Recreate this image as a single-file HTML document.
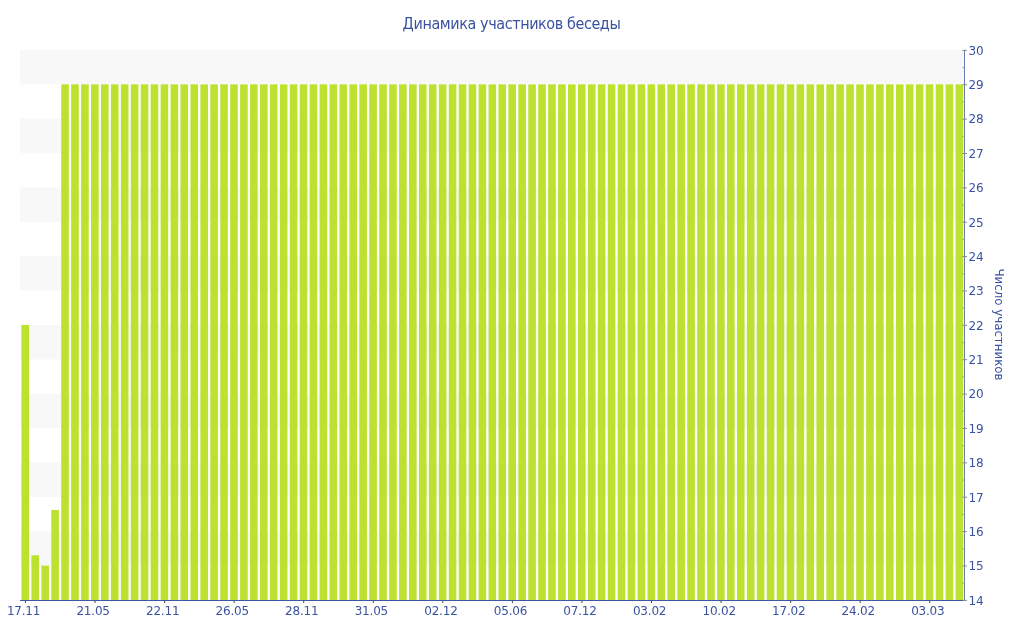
<!DOCTYPE html>
<html><head><meta charset="utf-8"><style>
html,body{margin:0;padding:0;background:#fff;width:1024px;height:640px;overflow:hidden}
svg{display:block}
.ov{position:absolute;left:0;top:0;will-change:transform}
text{font-family:"DejaVu Sans", "Liberation Sans", sans-serif;fill:#3a52a0}
.lab{letter-spacing:-0.2px}
.title{font-family:"DejaVu Sans", sans-serif;font-stretch:condensed;letter-spacing:-0.41px}
</style></head><body>
<svg width="1024" height="640" viewBox="0 0 1024 640">
<rect width="1024" height="640" fill="#fff"/>
<rect x="20" y="531.250" width="944" height="34.375" fill="#f8f8f8"/>
<rect x="20" y="462.500" width="944" height="34.375" fill="#f8f8f8"/>
<rect x="20" y="393.750" width="944" height="34.375" fill="#f8f8f8"/>
<rect x="20" y="325.000" width="944" height="34.375" fill="#f8f8f8"/>
<rect x="20" y="256.250" width="944" height="34.375" fill="#f8f8f8"/>
<rect x="20" y="187.500" width="944" height="34.375" fill="#f8f8f8"/>
<rect x="20" y="118.750" width="944" height="34.375" fill="#f8f8f8"/>
<rect x="20" y="50.000" width="944" height="34.375" fill="#f8f8f8"/>
<rect x="21.500" y="325.000" width="7.6" height="275.000" fill="#bce12e"/>
<rect x="31.437" y="555.312" width="7.6" height="44.688" fill="#bce12e"/>
<rect x="41.374" y="565.625" width="7.6" height="34.375" fill="#bce12e"/>
<rect x="51.311" y="509.938" width="7.6" height="90.062" fill="#bce12e"/>
<rect x="61.247" y="84.375" width="7.6" height="515.625" fill="#bce12e"/>
<rect x="71.184" y="84.375" width="7.6" height="515.625" fill="#bce12e"/>
<rect x="81.121" y="84.375" width="7.6" height="515.625" fill="#bce12e"/>
<rect x="91.058" y="84.375" width="7.6" height="515.625" fill="#bce12e"/>
<rect x="100.995" y="84.375" width="7.6" height="515.625" fill="#bce12e"/>
<rect x="110.932" y="84.375" width="7.6" height="515.625" fill="#bce12e"/>
<rect x="120.868" y="84.375" width="7.6" height="515.625" fill="#bce12e"/>
<rect x="130.805" y="84.375" width="7.6" height="515.625" fill="#bce12e"/>
<rect x="140.742" y="84.375" width="7.6" height="515.625" fill="#bce12e"/>
<rect x="150.679" y="84.375" width="7.6" height="515.625" fill="#bce12e"/>
<rect x="160.616" y="84.375" width="7.6" height="515.625" fill="#bce12e"/>
<rect x="170.553" y="84.375" width="7.6" height="515.625" fill="#bce12e"/>
<rect x="180.489" y="84.375" width="7.6" height="515.625" fill="#bce12e"/>
<rect x="190.426" y="84.375" width="7.6" height="515.625" fill="#bce12e"/>
<rect x="200.363" y="84.375" width="7.6" height="515.625" fill="#bce12e"/>
<rect x="210.300" y="84.375" width="7.6" height="515.625" fill="#bce12e"/>
<rect x="220.237" y="84.375" width="7.6" height="515.625" fill="#bce12e"/>
<rect x="230.174" y="84.375" width="7.6" height="515.625" fill="#bce12e"/>
<rect x="240.111" y="84.375" width="7.6" height="515.625" fill="#bce12e"/>
<rect x="250.047" y="84.375" width="7.6" height="515.625" fill="#bce12e"/>
<rect x="259.984" y="84.375" width="7.6" height="515.625" fill="#bce12e"/>
<rect x="269.921" y="84.375" width="7.6" height="515.625" fill="#bce12e"/>
<rect x="279.858" y="84.375" width="7.6" height="515.625" fill="#bce12e"/>
<rect x="289.795" y="84.375" width="7.6" height="515.625" fill="#bce12e"/>
<rect x="299.732" y="84.375" width="7.6" height="515.625" fill="#bce12e"/>
<rect x="309.668" y="84.375" width="7.6" height="515.625" fill="#bce12e"/>
<rect x="319.605" y="84.375" width="7.6" height="515.625" fill="#bce12e"/>
<rect x="329.542" y="84.375" width="7.6" height="515.625" fill="#bce12e"/>
<rect x="339.479" y="84.375" width="7.6" height="515.625" fill="#bce12e"/>
<rect x="349.416" y="84.375" width="7.6" height="515.625" fill="#bce12e"/>
<rect x="359.353" y="84.375" width="7.6" height="515.625" fill="#bce12e"/>
<rect x="369.289" y="84.375" width="7.6" height="515.625" fill="#bce12e"/>
<rect x="379.226" y="84.375" width="7.6" height="515.625" fill="#bce12e"/>
<rect x="389.163" y="84.375" width="7.6" height="515.625" fill="#bce12e"/>
<rect x="399.100" y="84.375" width="7.6" height="515.625" fill="#bce12e"/>
<rect x="409.037" y="84.375" width="7.6" height="515.625" fill="#bce12e"/>
<rect x="418.974" y="84.375" width="7.6" height="515.625" fill="#bce12e"/>
<rect x="428.911" y="84.375" width="7.6" height="515.625" fill="#bce12e"/>
<rect x="438.847" y="84.375" width="7.6" height="515.625" fill="#bce12e"/>
<rect x="448.784" y="84.375" width="7.6" height="515.625" fill="#bce12e"/>
<rect x="458.721" y="84.375" width="7.6" height="515.625" fill="#bce12e"/>
<rect x="468.658" y="84.375" width="7.6" height="515.625" fill="#bce12e"/>
<rect x="478.595" y="84.375" width="7.6" height="515.625" fill="#bce12e"/>
<rect x="488.532" y="84.375" width="7.6" height="515.625" fill="#bce12e"/>
<rect x="498.468" y="84.375" width="7.6" height="515.625" fill="#bce12e"/>
<rect x="508.405" y="84.375" width="7.6" height="515.625" fill="#bce12e"/>
<rect x="518.342" y="84.375" width="7.6" height="515.625" fill="#bce12e"/>
<rect x="528.279" y="84.375" width="7.6" height="515.625" fill="#bce12e"/>
<rect x="538.216" y="84.375" width="7.6" height="515.625" fill="#bce12e"/>
<rect x="548.153" y="84.375" width="7.6" height="515.625" fill="#bce12e"/>
<rect x="558.089" y="84.375" width="7.6" height="515.625" fill="#bce12e"/>
<rect x="568.026" y="84.375" width="7.6" height="515.625" fill="#bce12e"/>
<rect x="577.963" y="84.375" width="7.6" height="515.625" fill="#bce12e"/>
<rect x="587.900" y="84.375" width="7.6" height="515.625" fill="#bce12e"/>
<rect x="597.837" y="84.375" width="7.6" height="515.625" fill="#bce12e"/>
<rect x="607.774" y="84.375" width="7.6" height="515.625" fill="#bce12e"/>
<rect x="617.711" y="84.375" width="7.6" height="515.625" fill="#bce12e"/>
<rect x="627.647" y="84.375" width="7.6" height="515.625" fill="#bce12e"/>
<rect x="637.584" y="84.375" width="7.6" height="515.625" fill="#bce12e"/>
<rect x="647.521" y="84.375" width="7.6" height="515.625" fill="#bce12e"/>
<rect x="657.458" y="84.375" width="7.6" height="515.625" fill="#bce12e"/>
<rect x="667.395" y="84.375" width="7.6" height="515.625" fill="#bce12e"/>
<rect x="677.332" y="84.375" width="7.6" height="515.625" fill="#bce12e"/>
<rect x="687.268" y="84.375" width="7.6" height="515.625" fill="#bce12e"/>
<rect x="697.205" y="84.375" width="7.6" height="515.625" fill="#bce12e"/>
<rect x="707.142" y="84.375" width="7.6" height="515.625" fill="#bce12e"/>
<rect x="717.079" y="84.375" width="7.6" height="515.625" fill="#bce12e"/>
<rect x="727.016" y="84.375" width="7.6" height="515.625" fill="#bce12e"/>
<rect x="736.953" y="84.375" width="7.6" height="515.625" fill="#bce12e"/>
<rect x="746.889" y="84.375" width="7.6" height="515.625" fill="#bce12e"/>
<rect x="756.826" y="84.375" width="7.6" height="515.625" fill="#bce12e"/>
<rect x="766.763" y="84.375" width="7.6" height="515.625" fill="#bce12e"/>
<rect x="776.700" y="84.375" width="7.6" height="515.625" fill="#bce12e"/>
<rect x="786.637" y="84.375" width="7.6" height="515.625" fill="#bce12e"/>
<rect x="796.574" y="84.375" width="7.6" height="515.625" fill="#bce12e"/>
<rect x="806.511" y="84.375" width="7.6" height="515.625" fill="#bce12e"/>
<rect x="816.447" y="84.375" width="7.6" height="515.625" fill="#bce12e"/>
<rect x="826.384" y="84.375" width="7.6" height="515.625" fill="#bce12e"/>
<rect x="836.321" y="84.375" width="7.6" height="515.625" fill="#bce12e"/>
<rect x="846.258" y="84.375" width="7.6" height="515.625" fill="#bce12e"/>
<rect x="856.195" y="84.375" width="7.6" height="515.625" fill="#bce12e"/>
<rect x="866.132" y="84.375" width="7.6" height="515.625" fill="#bce12e"/>
<rect x="876.068" y="84.375" width="7.6" height="515.625" fill="#bce12e"/>
<rect x="886.005" y="84.375" width="7.6" height="515.625" fill="#bce12e"/>
<rect x="895.942" y="84.375" width="7.6" height="515.625" fill="#bce12e"/>
<rect x="905.879" y="84.375" width="7.6" height="515.625" fill="#bce12e"/>
<rect x="915.816" y="84.375" width="7.6" height="515.625" fill="#bce12e"/>
<rect x="925.753" y="84.375" width="7.6" height="515.625" fill="#bce12e"/>
<rect x="935.689" y="84.375" width="7.6" height="515.625" fill="#bce12e"/>
<rect x="945.626" y="84.375" width="7.6" height="515.625" fill="#bce12e"/>
<rect x="955.563" y="84.375" width="7.6" height="515.625" fill="#bce12e"/>
<path d="M20 600.5H965" stroke="#3f55a5" stroke-width="1" fill="none"/>
<path d="M964.5 50V600" stroke="#6a7cb6" stroke-width="1" fill="none"/>
<path d="M962.5 600.35H967M962.5 565.98H967M962.5 531.60H967M962.5 497.23H967M962.5 462.85H967M962.5 428.48H967M962.5 394.10H967M962.5 359.73H967M962.5 325.35H967M962.5 290.98H967M962.5 256.60H967M962.5 222.22H967M962.5 187.85H967M962.5 153.47H967M962.5 119.10H967M962.5 84.72H967M962.5 50.35H967" stroke="#888888" stroke-width="1" fill="none"/>
<path d="M962.5 583.16H964.5M962.5 548.79H964.5M962.5 514.41H964.5M962.5 480.04H964.5M962.5 445.66H964.5M962.5 411.29H964.5M962.5 376.91H964.5M962.5 342.54H964.5M962.5 308.16H964.5M962.5 273.79H964.5M962.5 239.41H964.5M962.5 205.04H964.5M962.5 170.66H964.5M962.5 136.29H964.5M962.5 101.91H964.5M962.5 67.54H964.5" stroke="#999999" stroke-width="1" fill="none"/>
<path d="M25.47 601V603M95.03 601V603M164.58 601V603M234.14 601V603M303.70 601V603M373.26 601V603M442.82 601V603M512.37 601V603M581.93 601V603M651.49 601V603M721.05 601V603M790.61 601V603M860.16 601V603M929.72 601V603" stroke="#444444" stroke-width="1" fill="none"/>
</svg>
<svg class="ov" width="1024" height="640" viewBox="0 0 1024 640">
<g font-size="12" class="lab">
<text x="23.57" y="615" text-anchor="middle">17.11</text>
<text x="93.13" y="615" text-anchor="middle">21.05</text>
<text x="162.68" y="615" text-anchor="middle">22.11</text>
<text x="232.24" y="615" text-anchor="middle">26.05</text>
<text x="301.80" y="615" text-anchor="middle">28.11</text>
<text x="371.36" y="615" text-anchor="middle">31.05</text>
<text x="440.92" y="615" text-anchor="middle">02.12</text>
<text x="510.47" y="615" text-anchor="middle">05.06</text>
<text x="580.03" y="615" text-anchor="middle">07.12</text>
<text x="649.59" y="615" text-anchor="middle">03.02</text>
<text x="719.15" y="615" text-anchor="middle">10.02</text>
<text x="788.71" y="615" text-anchor="middle">17.02</text>
<text x="858.26" y="615" text-anchor="middle">24.02</text>
<text x="927.82" y="615" text-anchor="middle">03.03</text>
<text x="968.5" y="604.70">14</text>
<text x="968.5" y="570.33">15</text>
<text x="968.5" y="535.95">16</text>
<text x="968.5" y="501.57">17</text>
<text x="968.5" y="467.20">18</text>
<text x="968.5" y="432.82">19</text>
<text x="968.5" y="398.45">20</text>
<text x="968.5" y="364.07">21</text>
<text x="968.5" y="329.70">22</text>
<text x="968.5" y="295.32">23</text>
<text x="968.5" y="260.95">24</text>
<text x="968.5" y="226.57">25</text>
<text x="968.5" y="192.20">26</text>
<text x="968.5" y="157.82">27</text>
<text x="968.5" y="123.45">28</text>
<text x="968.5" y="89.08">29</text>
<text x="968.5" y="54.70">30</text>
</g>
<text class="title" x="511.5" y="28.8" text-anchor="middle" font-size="16">Динамика участников беседы</text>
<text transform="translate(999.5,324.5) rotate(90)" text-anchor="middle" font-size="11.8" dy="0.35em">Число участников</text>
</svg>
</body></html>
